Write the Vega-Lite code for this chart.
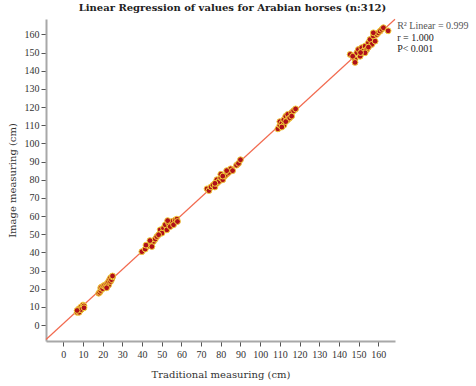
{
  "$schema": "https://vega.github.io/schema/vega-lite/v6.json",
  "width": 349,
  "height": 322,
  "autosize": "none",
  "padding": {"left": 46, "top": 19, "right": 81, "bottom": 45},
  "background": "white",
  "title": {
    "text": "Linear Regression of values for Arabian horses (n:312)",
    "font": "DejaVu Serif",
    "fontSize": 10,
    "fontWeight": "bold",
    "color": "#222",
    "anchor": "middle",
    "dx": 12,
    "offset": 4
  },
  "config": {
    "view": {"stroke": null},
    "axis": {
      "grid": false,
      "domainColor": "#a8a8a8",
      "domainWidth": 2,
      "tickColor": "#555",
      "tickSize": 5,
      "labelFont": "Liberation Serif",
      "labelFontSize": 10,
      "labelColor": "#333",
      "labelOverlap": false,
      "titleFont": "DejaVu Serif",
      "titleFontSize": 10,
      "titleFontWeight": "normal",
      "titleColor": "#333"
    }
  },
  "data": {
    "values": [
      {"trad": 7, "image": 7}, {"trad": 7.5, "image": 8}, {"trad": 8, "image": 7.5}, {"trad": 8, "image": 9},
      {"trad": 8.5, "image": 8}, {"trad": 9, "image": 9.5}, {"trad": 9, "image": 10}, {"trad": 9.5, "image": 9},
      {"trad": 10, "image": 10}, {"trad": 10, "image": 11}, {"trad": 10.5, "image": 10.5}, {"trad": 8, "image": 7},
      {"trad": 9, "image": 8.5}, {"trad": 10.5, "image": 9.5}, {"trad": 7, "image": 8},
      {"trad": 18, "image": 17.5}, {"trad": 18.5, "image": 18}, {"trad": 19, "image": 19}, {"trad": 19, "image": 20.5},
      {"trad": 19.5, "image": 21}, {"trad": 20, "image": 20}, {"trad": 20.5, "image": 21.5}, {"trad": 21, "image": 22},
      {"trad": 21.5, "image": 21}, {"trad": 22, "image": 22.5}, {"trad": 22.5, "image": 23}, {"trad": 23, "image": 22},
      {"trad": 23, "image": 24}, {"trad": 23.5, "image": 25}, {"trad": 24, "image": 24}, {"trad": 24, "image": 26},
      {"trad": 24.5, "image": 25}, {"trad": 25, "image": 26.5}, {"trad": 25, "image": 27}, {"trad": 22, "image": 20.5},
      {"trad": 39.9, "image": 40.4}, {"trad": 41.6, "image": 41.8}, {"trad": 43.3, "image": 43.6}, {"trad": 44.2, "image": 45.1},
      {"trad": 45.8, "image": 46}, {"trad": 46.7, "image": 47.3}, {"trad": 45, "image": 43.2}, {"trad": 47.5, "image": 48.7},
      {"trad": 49.2, "image": 52.4}, {"trad": 50.9, "image": 53.3}, {"trad": 51.8, "image": 55.2}, {"trad": 53.5, "image": 56.1},
      {"trad": 55.2, "image": 57}, {"trad": 56.9, "image": 57.9}, {"trad": 57.7, "image": 58.3}, {"trad": 52.6, "image": 52.4},
      {"trad": 54.3, "image": 54.2}, {"trad": 56, "image": 55.2}, {"trad": 50.1, "image": 50.6}, {"trad": 48.4, "image": 49.7},
      {"trad": 42, "image": 44}, {"trad": 44, "image": 46.5}, {"trad": 53, "image": 57.5}, {"trad": 58, "image": 57},
      {"trad": 73, "image": 75}, {"trad": 74, "image": 74}, {"trad": 75, "image": 76}, {"trad": 76, "image": 77},
      {"trad": 77, "image": 76}, {"trad": 78, "image": 78}, {"trad": 78, "image": 80}, {"trad": 79, "image": 79},
      {"trad": 80, "image": 81}, {"trad": 81, "image": 80}, {"trad": 82, "image": 82}, {"trad": 80, "image": 83},
      {"trad": 83, "image": 83}, {"trad": 84, "image": 84}, {"trad": 85, "image": 86}, {"trad": 83, "image": 85},
      {"trad": 86, "image": 85}, {"trad": 88, "image": 88}, {"trad": 89, "image": 89}, {"trad": 90, "image": 91},
      {"trad": 77, "image": 78}, {"trad": 81, "image": 82},
      {"trad": 109, "image": 108}, {"trad": 110, "image": 110}, {"trad": 110, "image": 112}, {"trad": 111, "image": 111},
      {"trad": 112, "image": 113}, {"trad": 112, "image": 110}, {"trad": 113, "image": 115}, {"trad": 114, "image": 113},
      {"trad": 114, "image": 116}, {"trad": 115, "image": 114}, {"trad": 116, "image": 117}, {"trad": 116, "image": 115},
      {"trad": 117, "image": 118}, {"trad": 118, "image": 119}, {"trad": 111, "image": 109}, {"trad": 113, "image": 112},
      {"trad": 145.7, "image": 149}, {"trad": 148.2, "image": 146.2}, {"trad": 149.1, "image": 149.9}, {"trad": 149.9, "image": 151.7},
      {"trad": 150.8, "image": 148}, {"trad": 151.6, "image": 152.7}, {"trad": 152.4, "image": 150.8}, {"trad": 153.3, "image": 153.6},
      {"trad": 154.2, "image": 151.7}, {"trad": 155, "image": 155.4}, {"trad": 155.8, "image": 157.2}, {"trad": 156.7, "image": 154.5},
      {"trad": 157.5, "image": 159.1}, {"trad": 158.4, "image": 156.3}, {"trad": 159.2, "image": 160}, {"trad": 160, "image": 160.9},
      {"trad": 160.9, "image": 161.8}, {"trad": 161.8, "image": 162.8}, {"trad": 162.6, "image": 163.7}, {"trad": 165, "image": 162},
      {"trad": 148.2, "image": 144.6}, {"trad": 153.3, "image": 149.9}, {"trad": 157.5, "image": 160.9}, {"trad": 151, "image": 150},
      {"trad": 147, "image": 148}, {"trad": 155, "image": 153}
    ]
  },
  "layer": [
    {
      "transform": [{"regression": "image", "on": "trad", "extent": [-8.8, 168.5]}],
      "mark": {"type": "line", "color": "#f26a4f", "strokeWidth": 1.2},
      "encoding": {
        "x": {"field": "trad", "type": "quantitative", "scale": {"domain": [-8.8, 168.5], "nice": false, "zero": false},
          "axis": {"values": [0,10,20,30,40,50,60,70,80,90,100,110,120,130,140,150,160], "title": "Traditional measuring (cm)", "titlePadding": 10, "labelPadding": 3}},
        "y": {"field": "image", "type": "quantitative", "scale": {"domain": [-8.8, 168.5], "nice": false, "zero": false},
          "axis": {"values": [0,10,20,30,40,50,60,70,80,90,100,110,120,130,140,150,160], "title": "Image measuring (cm)", "titlePadding": 7, "labelPadding": 2}}
      }
    },
    {
      "mark": {"type": "point", "filled": true, "fill": "#b0101a", "stroke": "#f2cf3c", "strokeWidth": 1, "size": 34, "opacity": 1},
      "encoding": {
        "x": {"field": "trad", "type": "quantitative", "scale": {"domain": [-8.8, 168.5], "nice": false, "zero": false},
          "axis": {"values": [0,10,20,30,40,50,60,70,80,90,100,110,120,130,140,150,160], "title": "Traditional measuring (cm)", "titlePadding": 10, "labelPadding": 3}},
        "y": {"field": "image", "type": "quantitative", "scale": {"domain": [-8.8, 168.5], "nice": false, "zero": false},
          "axis": {"values": [0,10,20,30,40,50,60,70,80,90,100,110,120,130,140,150,160], "title": "Image measuring (cm)", "titlePadding": 7, "labelPadding": 2}}
      }
    },
    {
      "data": {"values": [{}]},
      "mark": {"type": "text", "text": "R² Linear = 0.999", "align": "left", "baseline": "middle", "font": "Liberation Serif", "fontSize": 10, "color": "#555", "clip": false},
      "encoding": {
        "x": {"datum": 169.6, "type": "quantitative", "scale": {"domain": [-8.8, 168.5], "nice": false, "zero": false},
          "axis": {"values": [0,10,20,30,40,50,60,70,80,90,100,110,120,130,140,150,160], "title": "Traditional measuring (cm)", "titlePadding": 10, "labelPadding": 3}},
        "y": {"datum": 164.6, "type": "quantitative", "scale": {"domain": [-8.8, 168.5], "nice": false, "zero": false},
          "axis": {"values": [0,10,20,30,40,50,60,70,80,90,100,110,120,130,140,150,160], "title": "Image measuring (cm)", "titlePadding": 7, "labelPadding": 2}}
      }
    },
    {
      "data": {"values": [{}]},
      "mark": {"type": "text", "text": "r = 1.000", "align": "left", "baseline": "middle", "font": "Liberation Serif", "fontSize": 10, "color": "#222", "clip": false},
      "encoding": {
        "x": {"datum": 169.6, "type": "quantitative", "scale": {"domain": [-8.8, 168.5], "nice": false, "zero": false},
          "axis": {"values": [0,10,20,30,40,50,60,70,80,90,100,110,120,130,140,150,160], "title": "Traditional measuring (cm)", "titlePadding": 10, "labelPadding": 3}},
        "y": {"datum": 158.2, "type": "quantitative", "scale": {"domain": [-8.8, 168.5], "nice": false, "zero": false},
          "axis": {"values": [0,10,20,30,40,50,60,70,80,90,100,110,120,130,140,150,160], "title": "Image measuring (cm)", "titlePadding": 7, "labelPadding": 2}}
      }
    },
    {
      "data": {"values": [{}]},
      "mark": {"type": "text", "text": "P< 0.001", "align": "left", "baseline": "middle", "font": "Liberation Serif", "fontSize": 10, "color": "#222", "clip": false},
      "encoding": {
        "x": {"datum": 169.6, "type": "quantitative", "scale": {"domain": [-8.8, 168.5], "nice": false, "zero": false},
          "axis": {"values": [0,10,20,30,40,50,60,70,80,90,100,110,120,130,140,150,160], "title": "Traditional measuring (cm)", "titlePadding": 10, "labelPadding": 3}},
        "y": {"datum": 152.2, "type": "quantitative", "scale": {"domain": [-8.8, 168.5], "nice": false, "zero": false},
          "axis": {"values": [0,10,20,30,40,50,60,70,80,90,100,110,120,130,140,150,160], "title": "Image measuring (cm)", "titlePadding": 7, "labelPadding": 2}}
      }
    }
  ]
}
